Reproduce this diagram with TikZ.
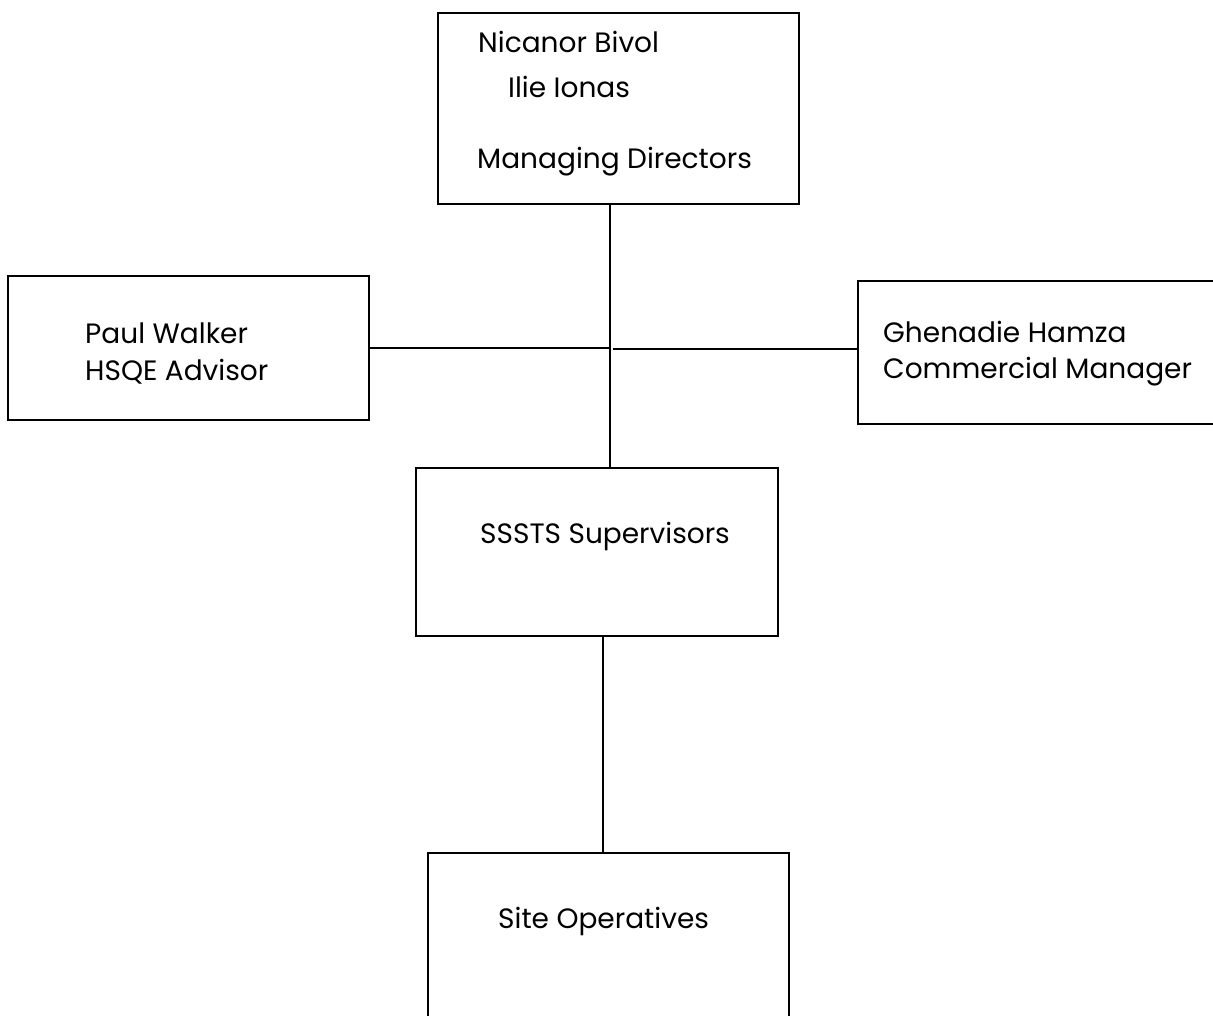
\documentclass[tikz,border=0pt]{standalone}
\usepackage{fontspec}
\setmainfont{Poppins}
\begin{document}
\begin{tikzpicture}[x=1pt,y=-1pt,
  box/.style={draw, line width=1.5pt, rectangle, inner sep=0pt, anchor=north west},
  lbl/.style={anchor=base west, inner sep=0pt, font=\fontsize{28}{34}\selectfont},
  conn/.style={line width=1.5pt}]
\useasboundingbox (0,0) rectangle (1213,1015);
\node[box, minimum width=361pt, minimum height=191pt] (md) at (437,12) {};
\node[box, minimum width=361pt, minimum height=144pt] (hsqe) at (7,275) {};
\node[box, minimum width=368pt, minimum height=143pt] (com) at (857,280) {};
\node[box, minimum width=362pt, minimum height=168pt] (sup) at (415,467) {};
\node[box, minimum width=361pt, minimum height=190pt] (site) at (427,852) {};
\coordinate (j) at (610,347);
\coordinate (j2) at (613,349);
\coordinate (k) at (603,0);
\draw[conn] (md.south -| j) -- (sup.north -| j);
\draw[conn] (hsqe.east) -- (hsqe.east -| j);
\draw[conn] (j2) -- (j2 -| com.west);
\draw[conn] (sup.south -| k) -- (site.north -| k);
\node[lbl] (t1) at (478,52) {Nicanor Bivol};
\node[lbl] (t2) at (508,97) {Ilie Ionas};
\node[lbl] (t3) at (477,168) {Managing Directors};
\node[lbl] (t4) at (85,343) {Paul Walker};
\node[lbl] (t5) at (85,380) {HSQE Advisor};
\node[lbl] (t6) at (883,342) {Ghenadie Hamza};
\node[lbl] (t7) at (883,378) {Commercial Manager};
\node[lbl] (t8) at (480,543) {SSSTS Supervisors};
\node[lbl] (t9) at (498,928) {Site Operatives};
\end{tikzpicture}
\end{document}
